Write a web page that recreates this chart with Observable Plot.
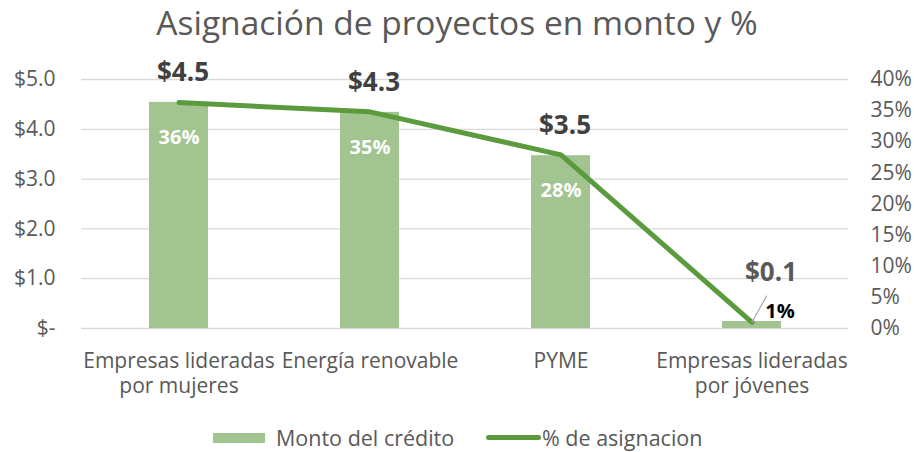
<!DOCTYPE html>
<html>
<head>
<meta charset="utf-8">
<script src="https://cdn.jsdelivr.net/npm/d3@7"></script>
<script src="https://cdn.jsdelivr.net/npm/@observablehq/plot@0.6"></script>
<style>
  body { margin: 0; background: #fff; font-family: "Open Sans", sans-serif; }
  #title { height: 48px; line-height: 44px; text-align: center; font-size: 33.5px; color: #595959; }
  #legend { position: relative; height: 42px; font-size: 21.5px; color: #595959; }
  .sw { position: absolute; }
  .lt { position: absolute; top: 0; line-height: 28px; }
</style>
</head>
<body>
<div id="title">Asignación de proyectos en monto y %</div>
<div id="chart"></div>
<div id="legend">
  <div class="sw" style="left:213px; top:23px; width:52px; height:10px; background:#a1c490;"></div>
  <div class="lt" style="left:276px; top:14px;">Monto del crédito</div>
  <div class="sw" style="left:486px; top:25px; width:55px; height:5px; border-radius:3px; background:#5b9b3e;"></div>
  <div class="lt" style="left:542px; top:14px;">% de asignacion</div>
</div>
<script>
const categories = ["Empresas lideradas\npor mujeres", "Energía renovable", "PYME", "Empresas lideradas\npor jóvenes"];
const montos = [4.54, 4.34, 3.47, 0.14];
const porcentajes = [36.3, 34.8, 27.9, 1.0];
const montoLabels = ["$4.5", "$4.3", "$3.5", "$0.1"];
const pctLabels = ["36%", "35%", "28%", "1%"];
const yTicks = [0, 1, 2, 3, 4, 5];
const yTickLabels = ["$-", "$1.0", "$2.0", "$3.0", "$4.0", "$5.0"];
const pctTicks = [0, 5, 10, 15, 20, 25, 30, 35, 40];
const pctTickLabels = ["0%", "5%", "10%", "15%", "20%", "25%", "30%", "35%", "40%"];

// right axis 40% aligns with left $5.0
const pctToY = p => p * 5 / 40;

const data = categories.map((c, i) => ({
  cat: c, monto: montos[i], pct: porcentajes[i],
  montoLabel: montoLabels[i], pctLabel: pctLabels[i]
}));

const leader = {
  draw(context, l) { context.moveTo(0, 0); context.lineTo(0, -l); }
};

const chart = Plot.plot({
  width: 914,
  height: 362,
  marginTop: 31,
  marginBottom: 82,
  marginLeft: 81,
  marginRight: 66,
  style: { fontFamily: "'Open Sans', sans-serif", fontSize: "21px", color: "#595959", background: "#fff" },
  x: { domain: categories, padding: 0, label: null },
  y: { domain: [0, 5], label: null },
  marks: [
    Plot.ruleY(yTicks, { stroke: "#d9d9d9", strokeWidth: 1.3 }),
    Plot.axisY(yTicks, { anchor: "left", tickSize: 0, tickPadding: 26, label: null,
      tickFormat: d => yTickLabels[yTicks.indexOf(d)] }),
    Plot.axisY(pctTicks.map(pctToY), { anchor: "right", tickSize: 0, tickPadding: 22, label: null,
      tickFormat: d => pctTickLabels[pctTicks.map(pctToY).indexOf(d)] }),
    Plot.axisX({ tickSize: 0, tickPadding: 21, label: null, lineHeight: 1.22 }),
    Plot.barY(data, { x: "cat", y: "monto", fill: "#a1c490", insetLeft: 66, insetRight: 66 }),
    Plot.line(data, { x: "cat", y: d => pctToY(d.pct), stroke: "#5b9b3e", strokeWidth: 5, strokeLinejoin: "round" }),
    Plot.text(data.slice(0, 3), { x: "cat", y: "monto", text: "montoLabel", dy: -30, dx: 4,
      fontWeight: "bold", fontSize: 26, fill: "#404040" }),
    Plot.text(data.slice(3), { x: "cat", y: "monto", text: "montoLabel", dy: -49, dx: 19,
      fontWeight: "bold", fontSize: 26, fill: "#595959" }),
    Plot.text(data.slice(0, 3), { x: "cat", y: "monto", text: "pctLabel", dy: 35,
      fontWeight: "bold", fontSize: 20, fill: "#ffffff" }),
    Plot.vector(data.slice(3), { x: "cat", y: d => pctToY(d.pct), length: 30, rotate: 29, anchor: "start",
      shape: leader, stroke: "#a6a6a6", strokeWidth: 1.2 }),
    Plot.text(data.slice(3), { x: "cat", y: d => pctToY(d.pct), text: "pctLabel", dx: 28, dy: -11,
      fontWeight: "bold", fontSize: 20, fill: "#000000" })
  ]
});
document.getElementById("chart").appendChild(chart);
</script>
</body>
</html>
